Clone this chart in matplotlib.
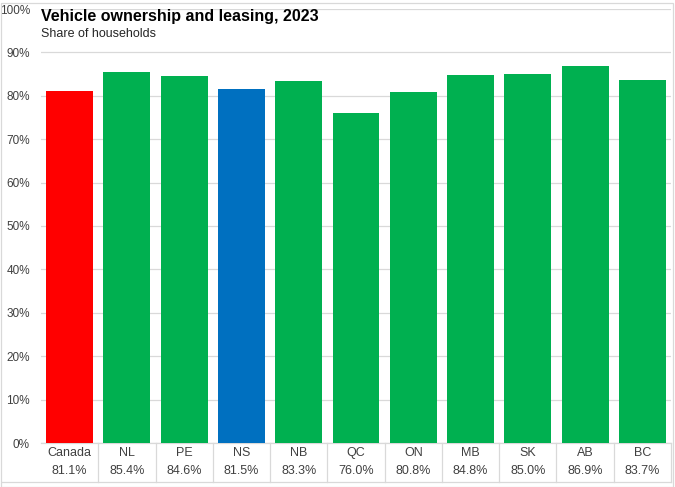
import matplotlib
matplotlib.use("Agg")
import matplotlib.pyplot as plt
from matplotlib.ticker import FuncFormatter

categories = ["Canada", "NL", "PE", "NS", "NB", "QC", "ON", "MB", "SK", "AB", "BC"]
values = [81.1, 85.4, 84.6, 81.5, 83.3, 76.0, 80.8, 84.8, 85.0, 86.9, 83.7]
colors = ["#FF0000", "#00B050", "#00B050", "#0070C0", "#00B050", "#00B050",
          "#00B050", "#00B050", "#00B050", "#00B050", "#00B050"]
yticks = [0, 10, 20, 30, 40, 50, 60, 70, 80, 90, 100]

plt.rcParams['font.family'] = ['Liberation Sans', 'DejaVu Sans']

W, H = 675, 487
fig = plt.figure(figsize=(W / 100, H / 100), dpi=100)
L, R, T, B = 41, 671, 9, 443
ax = fig.add_axes([L / W, 1 - B / H, (R - L) / W, (B - T) / H])

x = list(range(len(categories)))
ax.bar(x, values, width=0.82, color=colors, zorder=3)
ax.set_xlim(-0.5, len(categories) - 0.5)
ax.set_ylim(0, 100)
ax.set_yticks(yticks)
ax.yaxis.set_major_formatter(FuncFormatter(lambda v, p: f"{v:.0f}%"))
ax.tick_params(axis='y', length=0, labelsize=8.5, colors="#404040", pad=8)
ax.set_xticks([])
ax.grid(axis='y', color="#D9D9D9", linewidth=0.9, zorder=0)
for s in ["top", "right", "left"]:
    ax.spines[s].set_visible(False)
ax.spines["bottom"].set_color("#D9D9D9")
ax.spines["bottom"].set_linewidth(0.9)

# table below
tr = ax.get_xaxis_transform()
ph = B - T
def ay(py):
    return (B - py) / ph

for i, (c, v) in enumerate(zip(categories, values)):
    ax.text(i, ay(453), c, transform=tr, ha='center', va='center',
            fontsize=9, color="#404040", clip_on=False)
    ax.text(i, ay(471), f"{v:.1f}%", transform=tr, ha='center', va='center',
            fontsize=9, color="#404040", clip_on=False)
for i in range(len(categories)):
    ax.plot([i + 0.5, i + 0.5], [0, ay(482)], transform=tr, color="#D9D9D9",
            linewidth=0.9, clip_on=False)
fig.add_artist(plt.Line2D([2 / W, R / W], [1 - 482 / H, 1 - 482 / H],
                          color="#D9D9D9", linewidth=0.9))

# title
fig.text(41 / W, 1 - 17 / H, "Vehicle ownership and leasing, 2023",
         fontsize=11.5, fontweight='bold', ha='left', va='center', color="#000000")
fig.text(41 / W, 1 - 34 / H, "Share of households",
         fontsize=9, ha='left', va='center', color="#262626")

# outer border
fig.add_artist(plt.Rectangle((0.5 / W, 0.5 / H), (W - 2.5) / W, (H - 3) / H,
                             fill=False, edgecolor="#D9D9D9", linewidth=0.9,
                             transform=fig.transFigure))

fig.savefig("out.png", dpi=100)
